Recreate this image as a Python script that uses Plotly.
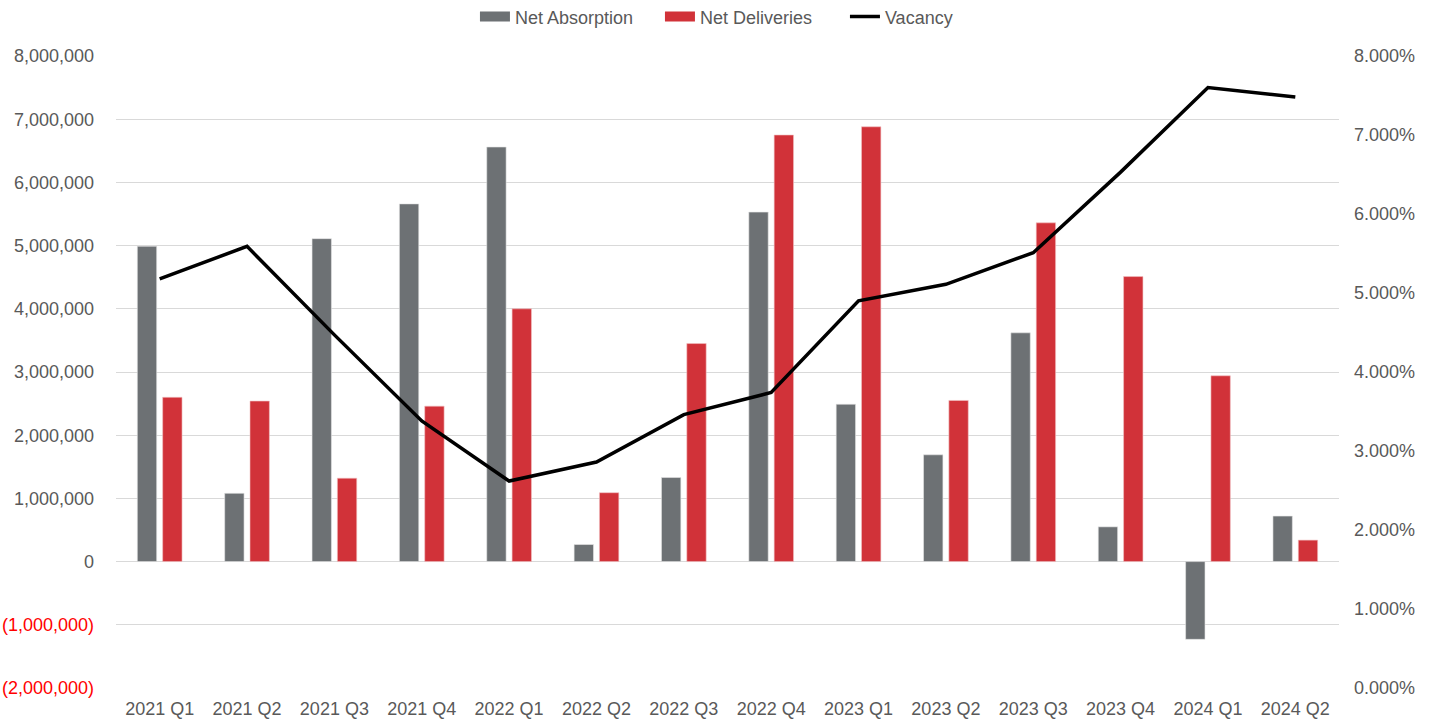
import plotly.graph_objects as go

quarters = ["2021 Q1", "2021 Q2", "2021 Q3", "2021 Q4", "2022 Q1", "2022 Q2", "2022 Q3",
            "2022 Q4", "2023 Q1", "2023 Q2", "2023 Q3", "2023 Q4", "2024 Q1", "2024 Q2"]
net_absorption = [4990000, 1080000, 5110000, 5660000, 6560000, 270000, 1330000,
                  5530000, 2490000, 1690000, 3620000, 550000, -1230000, 720000]
net_deliveries = [2600000, 2540000, 1320000, 2460000, 4000000, 1090000, 3450000,
                  6750000, 6880000, 2550000, 5360000, 4510000, 2940000, 340000]
vacancy = [0.0518, 0.0559, 0.0447, 0.0338, 0.0262, 0.0286, 0.0346,
           0.0374, 0.0490, 0.0511, 0.0551, 0.0653, 0.0760, 0.0748]

left_ticks = [-2000000, -1000000, 0, 1000000, 2000000, 3000000, 4000000,
              5000000, 6000000, 7000000, 8000000]


def fmt(v):
    if v < 0:
        return '<span style="color:#FF0000">({:,})</span>'.format(-v)
    return "{:,}".format(v)


left_text = [fmt(v) for v in left_ticks]

GRAY = "#6D7174"
RED = "#D13239"
TXT = "#595959"
FS = 18

fig = go.Figure()
fig.add_trace(go.Bar(x=quarters, y=net_absorption, name="Net Absorption", showlegend=False,
                     marker=dict(color=GRAY, line=dict(color="#E6E6E6", width=0.6))))
fig.add_trace(go.Bar(x=quarters, y=net_deliveries, name="Net Deliveries", showlegend=False,
                     marker=dict(color=RED, line=dict(color="#F2C2C4", width=0.6))))
# legend proxies (wide rectangular swatches like the original)
fig.add_trace(go.Scatter(x=[None], y=[None], mode="lines", name="Net Absorption",
                         line=dict(color=GRAY, width=10)))
fig.add_trace(go.Scatter(x=[None], y=[None], mode="lines", name="Net Deliveries",
                         line=dict(color=RED, width=10)))
fig.add_trace(go.Scatter(x=quarters, y=vacancy, name="Vacancy", yaxis="y2",
                         mode="lines", line=dict(color="#000000", width=3.5)))

fig.update_layout(
    width=1435, height=719,
    margin=dict(l=116, r=96, t=56, b=31, autoexpand=False),
    paper_bgcolor="white", plot_bgcolor="white",
    font=dict(family="Liberation Sans, Arial, sans-serif", size=FS, color=TXT),
    barmode="group", bargap=0.42, bargroupgap=0.235,
    showlegend=True,
    legend=dict(orientation="h", x=0.2935, xanchor="left", y=1.062, yanchor="middle",
                font=dict(size=FS, color=TXT), traceorder="normal",
                itemwidth=30, entrywidth=140, entrywidthmode="pixels",
                bgcolor="rgba(0,0,0,0)"),
    xaxis=dict(showgrid=False, showline=False, ticks="", tickfont=dict(size=FS, color=TXT),
               ticklabelstandoff=8, automargin=False),
    yaxis=dict(range=[-2000000, 8000000], tickvals=left_ticks, ticktext=left_text,
               showgrid=True, gridcolor="#D9D9D9", gridwidth=1.3, zeroline=False,
               showline=False, ticks="", ticklabelstandoff=21, automargin=False,
               tickfont=dict(size=FS, color=TXT)),
    yaxis2=dict(range=[0, 0.08], dtick=0.01, tickformat=".3%", overlaying="y", side="right",
                showgrid=False, zeroline=False, showline=False, ticks="", automargin=False,
                ticklabelstandoff=14, tickfont=dict(size=FS, color=TXT)),
)

fig.write_html("out.html", config={"displayModeBar": False},
               post_script="document.body.style.margin='0';document.body.style.overflow='hidden';")
